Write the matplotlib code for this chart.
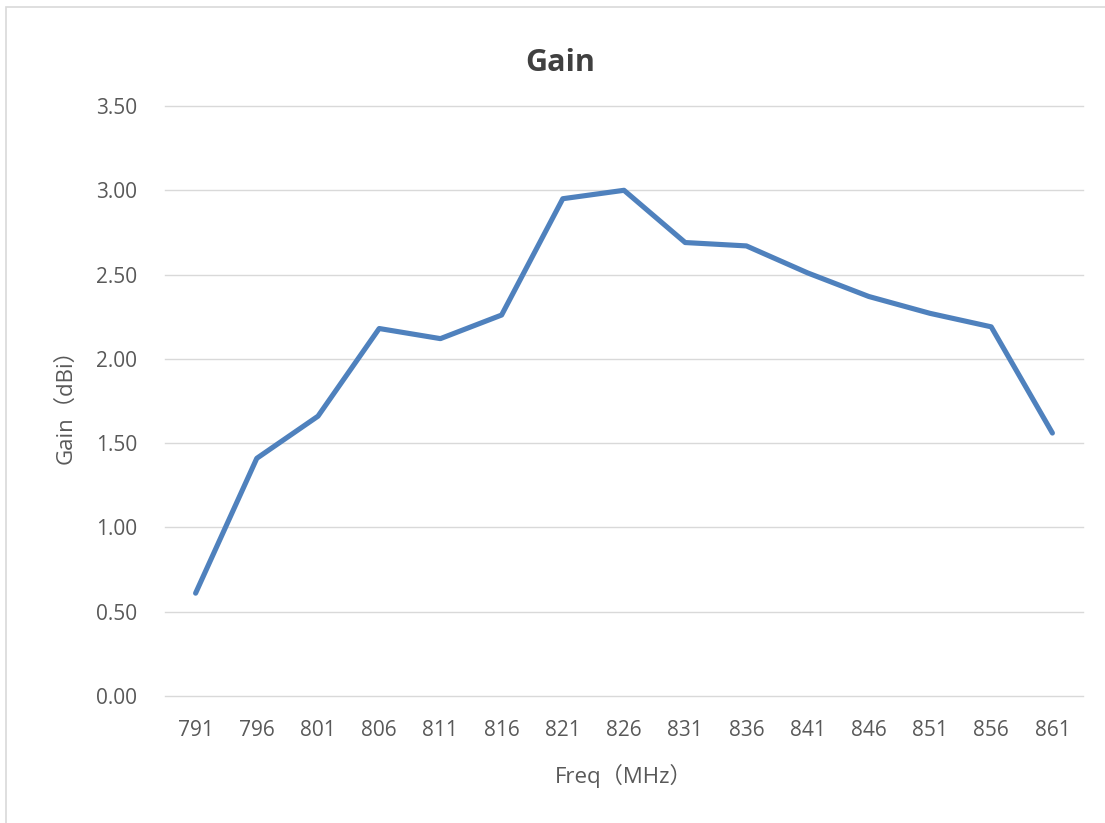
import matplotlib.pyplot as plt
from matplotlib.patches import Rectangle

plt.rcParams['font.family'] = ['Open Sans', 'Noto Sans CJK SC', 'DejaVu Sans']

freq = ['791', '796', '801', '806', '811', '816', '821', '826',
        '831', '836', '841', '846', '851', '856', '861']
gain = [0.61, 1.41, 1.66, 2.18, 2.12, 2.26, 2.95, 3.00,
        2.69, 2.67, 2.51, 2.37, 2.27, 2.19, 1.56]
yticks = [0.0, 0.5, 1.0, 1.5, 2.0, 2.5, 3.0, 3.5]

W, H = 1105, 823
fig = plt.figure(figsize=(W / 100, H / 100), dpi=100)

# chart-area border (runs off the right and bottom edges)
fig.patches.append(Rectangle((6 / W, -0.1), 2.0, 1.1 - 7 / H,
                             transform=fig.transFigure, fill=False,
                             edgecolor='#d9d9d9', linewidth=1.2))

ax = fig.add_axes([165 / W, 1 - 696 / H, (1083 - 165) / W, (696 - 106) / H])
x = list(range(len(freq)))
ax.plot(x, gain, color='#4f81bd', linewidth=3.7,
        solid_capstyle='round', solid_joinstyle='round', zorder=3)

ax.set_xlim(-0.5, len(freq) - 0.5)
ax.set_ylim(0, 3.5)
ax.set_yticks(yticks)
ax.set_yticklabels([f'{v:.2f}' for v in yticks])
ax.set_xticks(x)
ax.set_xticklabels(freq)
ax.grid(axis='y', color='#d9d9d9', linewidth=1.0)
for gl in ax.get_ygridlines():
    gl.set_clip_on(False)
ax.set_axisbelow(True)
for s in ax.spines.values():
    s.set_visible(False)
ax.tick_params(axis='both', length=0, labelsize=15, labelcolor='#595959')
ax.tick_params(axis='y', pad=20)
ax.tick_params(axis='x', pad=17)

ax.set_xlabel('Freq（MHz）', fontsize=16, color='#595959', labelpad=17)
ax.set_ylabel('Gain（dBi）', fontsize=16, color='#595959', labelpad=14)

fig.text(560 / W, 1 - 63 / H, 'Gain', fontsize=22, fontweight='bold',
         color='#404040', ha='center', va='center')

fig.savefig('out.png', dpi=100, facecolor='white')
